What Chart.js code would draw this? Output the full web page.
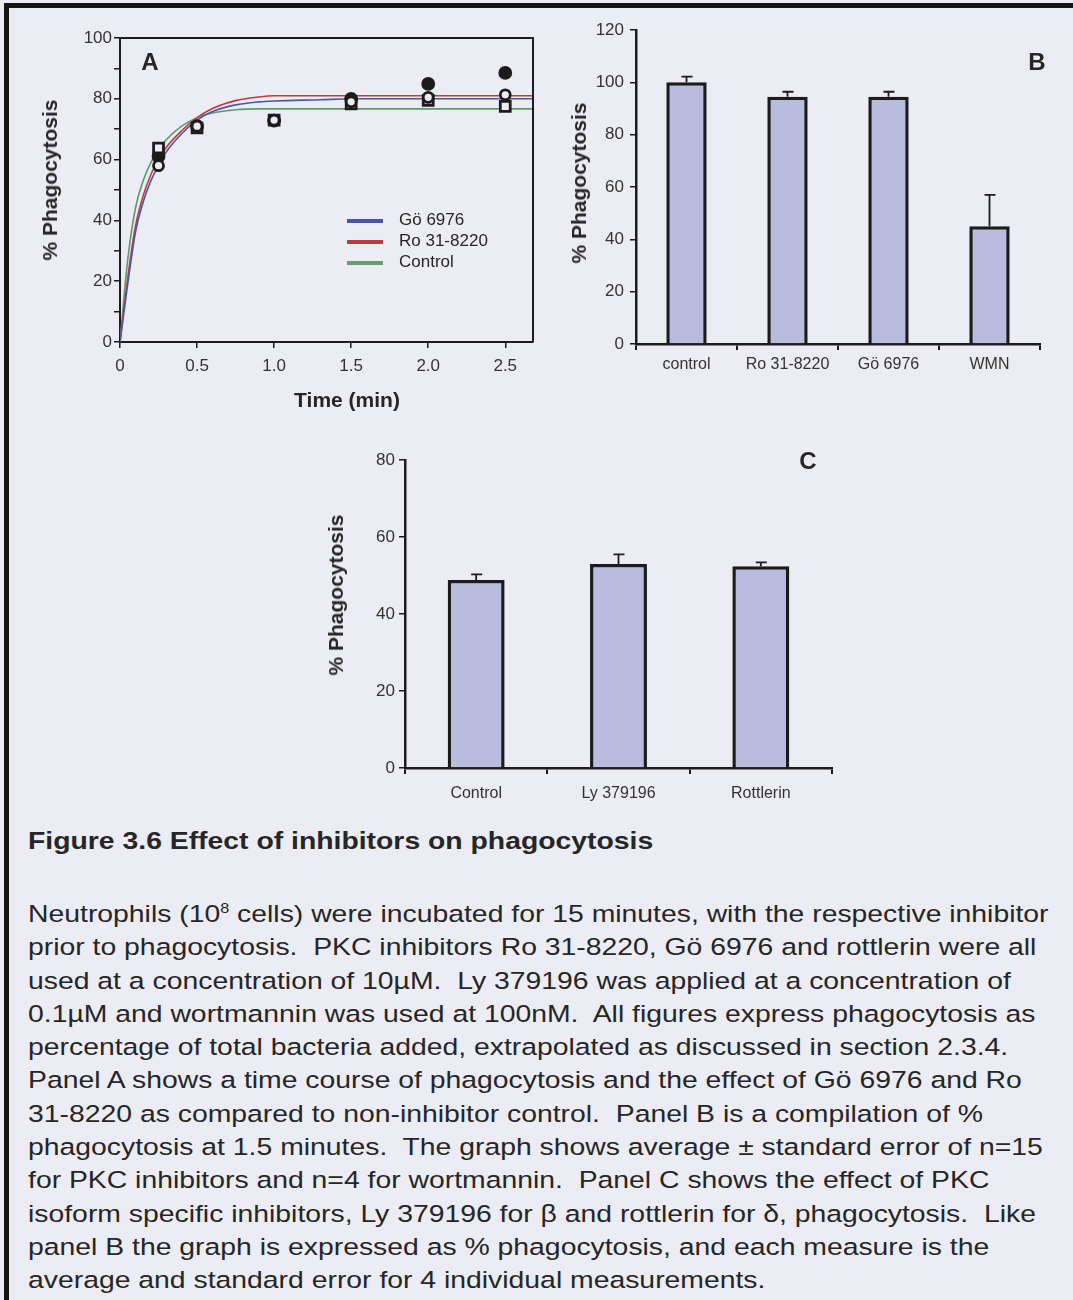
<!DOCTYPE html>
<html>
<head>
<meta charset="utf-8">
<script src="https://cdn.jsdelivr.net/npm/chart.js@4.4.1/dist/chart.umd.min.js"></script>
<style>
  html, body { margin: 0; padding: 0; }
  body {
    width: 1073px; height: 1300px; overflow: hidden; position: relative;
    background: #ecedf4;
    font-family: "Liberation Sans", Arial, sans-serif;
    color: #262626;
  }
  #frame {
    position: absolute; left: 4px; top: 3px; width: 1100px; height: 1330px;
    border-top: 5px solid #151515; border-left: 5px solid #151515;
  }
  canvas { position: absolute; }
  .ytitle {
    position: absolute; font-weight: bold; font-size: 21px; white-space: nowrap;
    transform: translate(-50%, -50%) rotate(-90deg);
  }
  .xtitle {
    position: absolute; font-weight: bold; font-size: 21px; white-space: nowrap;
    transform: translate(-50%, -50%);
  }
  .panel {
    position: absolute; font-weight: bold; font-size: 24px;
    transform: translate(-50%, -50%);
  }
  .leg { position: absolute; left: 347px; font-size: 17px; white-space: nowrap; }
  .leg span.sw { position: absolute; left: 0; top: -1px; width: 36px; height: 4px; }
  .leg span.tx { position: absolute; left: 52px; top: -10px; }
  #caption-title, #caption {
    position: absolute; left: 28px; font-size: 24.5px; line-height: 33.3px;
    white-space: nowrap; transform: scaleX(1.157); transform-origin: 0 0;
  }
  #caption-title { top: 824px; font-weight: bold; }
  #caption { top: 897px; }
  #caption sup { font-size: 14px; line-height: 0; }
</style>
</head>
<body>
<div id="frame"></div>

<canvas id="chartA" width="560" height="420" style="left:0px;top:0px"></canvas>
<canvas id="chartB" width="513" height="390" style="left:560px;top:0px"></canvas>
<canvas id="chartC" width="520" height="380" style="left:320px;top:440px"></canvas>

<div class="ytitle" style="left:50px;top:180px">% Phagocytosis</div>
<div class="xtitle" style="left:347px;top:400px">Time (min)</div>
<div class="panel" style="left:150px;top:62px">A</div>

<div class="leg" style="top:220px"><span class="sw" style="background:#4b57a6"></span><span class="tx">Gö 6976</span></div>
<div class="leg" style="top:241px"><span class="sw" style="background:#c03a3c"></span><span class="tx">Ro 31-8220</span></div>
<div class="leg" style="top:262px"><span class="sw" style="background:#6a9c72"></span><span class="tx">Control</span></div>

<div class="ytitle" style="left:579px;top:183px">% Phagocytosis</div>
<div class="panel" style="left:1037px;top:62px">B</div>

<div class="ytitle" style="left:336px;top:595px">% Phagocytosis</div>
<div class="panel" style="left:808px;top:461px">C</div>

<div id="caption-title">Figure 3.6 Effect of inhibitors on phagocytosis</div>
<div id="caption">
Neutrophils (10<sup>8</sup> cells) were incubated for 15 minutes, with the respective inhibitor<br>
prior to phagocytosis.&nbsp; PKC inhibitors Ro 31-8220, Gö 6976 and rottlerin were all<br>
used at a concentration of 10µM.&nbsp; Ly 379196 was applied at a concentration of<br>
0.1µM and wortmannin was used at 100nM.&nbsp; All figures express phagocytosis as<br>
percentage of total bacteria added, extrapolated as discussed in section 2.3.4.<br>
Panel A shows a time course of phagocytosis and the effect of Gö 6976 and Ro<br>
31-8220 as compared to non-inhibitor control.&nbsp; Panel B is a compilation of %<br>
phagocytosis at 1.5 minutes.&nbsp; The graph shows average ± standard error of n=15<br>
for PKC inhibitors and n=4 for wortmannin.&nbsp; Panel C shows the effect of PKC<br>
isoform specific inhibitors, Ly 379196 for β and rottlerin for δ, phagocytosis.&nbsp; Like<br>
panel B the graph is expressed as % phagocytosis, and each measure is the<br>
average and standard error for 4 individual measurements.
</div>

<script>
// ---- panel A: time course ----
const sampleTimes = [0.25, 0.5, 1.0, 1.5, 2.0, 2.5];
const pointsFilled = [61, 71, 72.8, 80, 84.9, 88.5];
const pointsOpenCircle = [58, 71, 73, 79, 80.5, 81.3];
const pointsOpenSquare = [63.8, 70.4, 73, 78.3, 79.5, 77.5];

// fitted curves
const fitTimes = [0, 0.05, 0.1, 0.15, 0.2, 0.25, 0.3, 0.4, 0.5, 0.6, 0.75, 0.9, 1.0, 1.3, 1.5, 2.0, 2.5, 2.68];
const fitGo = [0, 19, 36, 46, 53, 58, 62.5, 68.5, 73, 75.8, 78, 79, 79.3, 79.7, 80, 80, 80, 80];
const fitRo = [0, 21, 38, 48, 55, 60, 64, 69.5, 73.8, 76.8, 79.4, 80.6, 81, 81, 81, 81, 81, 81];
const fitControl = [0, 27, 44, 53, 59, 63, 66.5, 71, 73.8, 75.3, 76.4, 76.7, 76.7, 76.7, 76.7, 76.7, 76.7, 76.7];

const timeTickLabels = ['0', '0.5', '1.0', '1.5', '2.0', '2.5'];

// ---- panel B ----
const labelsB = ['control', 'Ro 31-8220', 'Gö 6976', 'WMN'];
const valuesB = [100, 94.5, 94.5, 45];
const errorsB = [2.2, 1.9, 1.9, 12];

// ---- panel C ----
const labelsC = ['Control', 'Ly 379196', 'Rottlerin'];
const valuesC = [48.8, 53, 52.4];
const errorsC = [1.5, 2.5, 1];

const INK = '#1c1c1c';
const TICK_TEXT = '#333333';
const BAR_FILL = '#b9bcdd';
const PAGE = '#ecedf4';

const toXY = (xs, ys) => xs.map((x, i) => ({ x: x, y: ys[i] }));

const boxFrame = {
  id: 'boxFrame',
  afterDraw(chart) {
    const { ctx, chartArea: a } = chart;
    ctx.save();
    ctx.strokeStyle = INK;
    ctx.lineWidth = 2;
    ctx.beginPath();
    ctx.moveTo(a.left, a.top);
    ctx.lineTo(a.right, a.top);
    ctx.lineTo(a.right, a.bottom);
    ctx.stroke();
    ctx.restore();
  }
};

const errorBars = {
  id: 'errorBars',
  afterDatasetsDraw(chart, args, opts) {
    const { ctx } = chart;
    const yScale = chart.scales.y;
    const meta = chart.getDatasetMeta(0);
    const vals = chart.data.datasets[0].data;
    ctx.save();
    ctx.strokeStyle = INK;
    ctx.lineWidth = 1.8;
    meta.data.forEach((bar, i) => {
      const yTop = yScale.getPixelForValue(vals[i] + opts.errors[i]);
      ctx.beginPath();
      ctx.moveTo(bar.x, bar.y);
      ctx.lineTo(bar.x, yTop);
      ctx.moveTo(bar.x - 5, yTop);
      ctx.lineTo(bar.x + 6, yTop);
      ctx.stroke();
    });
    ctx.restore();
  }
};

Chart.defaults.font.family = '"Liberation Sans", Arial, sans-serif';
Chart.defaults.animation = false;

const markerBase = {
  type: 'scatter',
  showLine: false,
  borderColor: INK,
  pointBorderWidth: 2.8
};
const curveBase = {
  type: 'scatter',
  showLine: true,
  pointRadius: 0,
  borderWidth: 1.6,
  cubicInterpolationMode: 'monotone',
  order: 5
};

new Chart(document.getElementById('chartA'), {
  type: 'scatter',
  data: {
    datasets: [
      { ...markerBase, label: 'open circle', data: toXY(sampleTimes, pointsOpenCircle), pointStyle: 'circle', pointRadius: 5, backgroundColor: PAGE, order: 0 },
      { ...markerBase, label: 'open square', data: toXY(sampleTimes, pointsOpenSquare), pointStyle: 'rect', pointRadius: 7, backgroundColor: PAGE, order: 1 },
      { ...markerBase, label: 'filled', data: toXY(sampleTimes, pointsFilled), pointStyle: 'circle', pointRadius: 5.5, backgroundColor: INK, order: 2 },
      { ...curveBase, label: 'Gö 6976', data: toXY(fitTimes, fitGo), borderColor: '#4b57a6' },
      { ...curveBase, label: 'Ro 31-8220', data: toXY(fitTimes, fitRo), borderColor: '#c03a3c' },
      { ...curveBase, label: 'Control', data: toXY(fitTimes, fitControl), borderColor: '#5e9a6a' }
    ]
  },
  options: {
    responsive: false,
    devicePixelRatio: 1,
    layout: { padding: { top: 38, right: 27, left: 0, bottom: 0 } },
    plugins: { legend: { display: false }, tooltip: { enabled: false } },
    scales: {
      x: {
        type: 'linear', min: 0, max: 2.68,
        afterFit(s) { s.height = 78; },
        border: { color: INK, width: 2 },
        grid: { drawOnChartArea: false, drawTicks: true, tickLength: 6, color: INK, lineWidth: 1.5 },
        ticks: {
          stepSize: 0.5, includeBounds: false, padding: 8, color: TICK_TEXT, font: { size: 17 },
          callback: (v) => timeTickLabels[Math.round(v / 0.5)]
        }
      },
      y: {
        min: 0, max: 100,
        afterFit(s) { s.width = 120; },
        border: { color: INK, width: 2 },
        grid: { drawOnChartArea: false, drawTicks: true, tickLength: 6, color: INK, lineWidth: 1.5 },
        ticks: {
          stepSize: 10, autoSkip: false, padding: 2, color: TICK_TEXT, font: { size: 17 },
          callback: (v) => (v % 20 === 0 ? String(v) : '')
        }
      }
    }
  },
  plugins: [boxFrame]
});

function barChart(id, labels, values, errors, yMax, geom) {
  return new Chart(document.getElementById(id), {
    type: 'bar',
    data: {
      labels: labels,
      datasets: [{
        data: values,
        backgroundColor: BAR_FILL,
        borderColor: INK,
        borderWidth: 3.5,
        borderSkipped: 'start',
        categoryPercentage: 1,
        barPercentage: 0.4
      }]
    },
    options: {
      responsive: false,
      devicePixelRatio: 1,
      layout: { padding: { top: geom.top, right: geom.right, left: 0, bottom: 0 } },
      plugins: {
        legend: { display: false },
        tooltip: { enabled: false },
        errorBars: { errors: errors }
      },
      scales: {
        x: {
          afterFit(s) { s.height = geom.xHeight; },
          border: { color: INK, width: 2.5 },
          grid: { offset: true, drawOnChartArea: false, drawTicks: true, tickLength: 6, color: INK, lineWidth: 2 },
          ticks: { padding: geom.xPad, color: TICK_TEXT, font: { size: 16 } }
        },
        y: {
          min: 0, max: yMax,
          afterFit(s) { s.width = geom.yWidth; },
          border: { color: INK, width: 2.5 },
          grid: { drawOnChartArea: false, drawTicks: true, tickLength: 6, color: INK, lineWidth: 1.5 },
          ticks: { stepSize: 20, padding: geom.yPad, color: TICK_TEXT, font: { size: 17 } }
        }
      }
    },
    plugins: [errorBars]
  });
}

barChart('chartB', labelsB, valuesB, errorsB, 120,
  { top: 30, right: 33, xHeight: 46, yWidth: 76, xPad: 5, yPad: 6 });
barChart('chartC', labelsC, valuesC, errorsC, 80,
  { top: 20, right: 8, xHeight: 52, yWidth: 85, xPad: 10, yPad: 4 });
</script>
</body>
</html>
